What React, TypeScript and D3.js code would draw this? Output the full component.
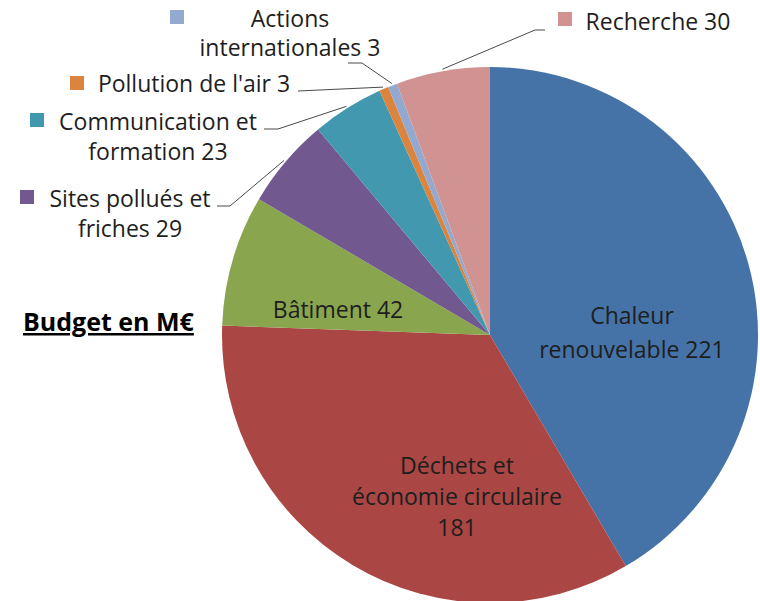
import React from "react";
import * as d3 from "d3";

const categories = [
  "Chaleur renouvelable",
  "Déchets et économie circulaire",
  "Bâtiment",
  "Sites pollués et friches",
  "Communication et formation",
  "Pollution de l'air",
  "Actions internationales",
  "Recherche",
];
const values = [221, 181, 42, 29, 23, 3, 3, 30];
const colors = ["#4572A7", "#AA4643", "#89A54E", "#71588F", "#4198AF", "#DB843D", "#93A9CF", "#D19392"];
const title = "Budget en M€";

// label text lines
const labelLines: string[][] = [
  ["Chaleur", "renouvelable 221"],
  ["Déchets et", "économie circulaire", "181"],
  ["Bâtiment 42"],
  ["Sites pollués et", "friches 29"],
  ["Communication et", "formation 23"],
  ["Pollution de l'air 3"],
  ["Actions", "internationales 3"],
  ["Recherche 30"],
];

type Lay = {
  x: number; y: number; lh: number; anchor: "middle" | "start";
  sq?: [number, number];
  leader?: [number, number][];
  inside?: boolean;
};
const layout: Lay[] = [
  { x: 632, y: 324, lh: 34, anchor: "middle", inside: true },
  { x: 457, y: 474, lh: 31, anchor: "middle", inside: true },
  { x: 338, y: 318, lh: 30, anchor: "middle", inside: true },
  { x: 130, y: 207, lh: 30, anchor: "middle", sq: [20, 190], leader: [[217, 206], [230, 206]] },
  { x: 158, y: 130, lh: 30, anchor: "middle", sq: [30, 113], leader: [[264, 129], [278, 129]] },
  { x: 194, y: 92, lh: 30, anchor: "middle", sq: [70, 76], leader: [[298, 91]] },
  { x: 290, y: 27, lh: 29, anchor: "middle", sq: [170, 10], leader: [[348, 63], [362, 63]] },
  { x: 658, y: 30, lh: 30, anchor: "middle", sq: [558, 12], leader: [[545, 30], [535, 30]] },
];

const W = 760, H = 601;
const cx = 490, cy = 335, R = 268;

export default function App() {
  const pie = d3.pie<number>().sort(null).value((d) => d)(values);
  const arc = d3.arc<d3.PieArcDatum<number>>().innerRadius(0).outerRadius(R);
  const font = "'Open Sans', sans-serif";
  return (
    <svg width={W} height={H} style={{ position: "absolute", left: 0, top: 0, background: "#fff" }}
      fontFamily={font}>
      <g transform={`translate(${cx},${cy})`}>
        {pie.map((p, i) => (
          <path key={i} d={arc(p) || ""} fill={colors[i]} />
        ))}
      </g>
      {pie.map((p, i) => {
        const L = layout[i];
        if (!L.leader) return null;
        const mid = (p.startAngle + p.endAngle) / 2;
        const ex = cx + Math.sin(mid) * (R + 2);
        const ey = cy - Math.cos(mid) * (R + 2);
        const pts = [...L.leader, [ex, ey] as [number, number]];
        return (
          <polyline key={"l" + i} points={pts.map((q) => q.join(",")).join(" ")}
            fill="none" stroke="#4a4a4a" strokeWidth={1} />
        );
      })}
      {labelLines.map((lines, i) => {
        const L = layout[i];
        return (
          <g key={"t" + i}>
            {L.sq && <rect x={L.sq[0]} y={L.sq[1]} width={14} height={14} fill={colors[i]} />}
            <text textAnchor={L.anchor} fontSize={23} fill="#1e1e1e">
              {lines.map((s, j) => (
                <tspan key={j} x={L.x} y={L.y + j * L.lh}>{s}</tspan>
              ))}
            </text>
          </g>
        );
      })}
      <text x={23} y={331} fontSize={25} fontWeight="bold" fill="#000" textDecoration="underline">{title}</text>
    </svg>
  );
}
